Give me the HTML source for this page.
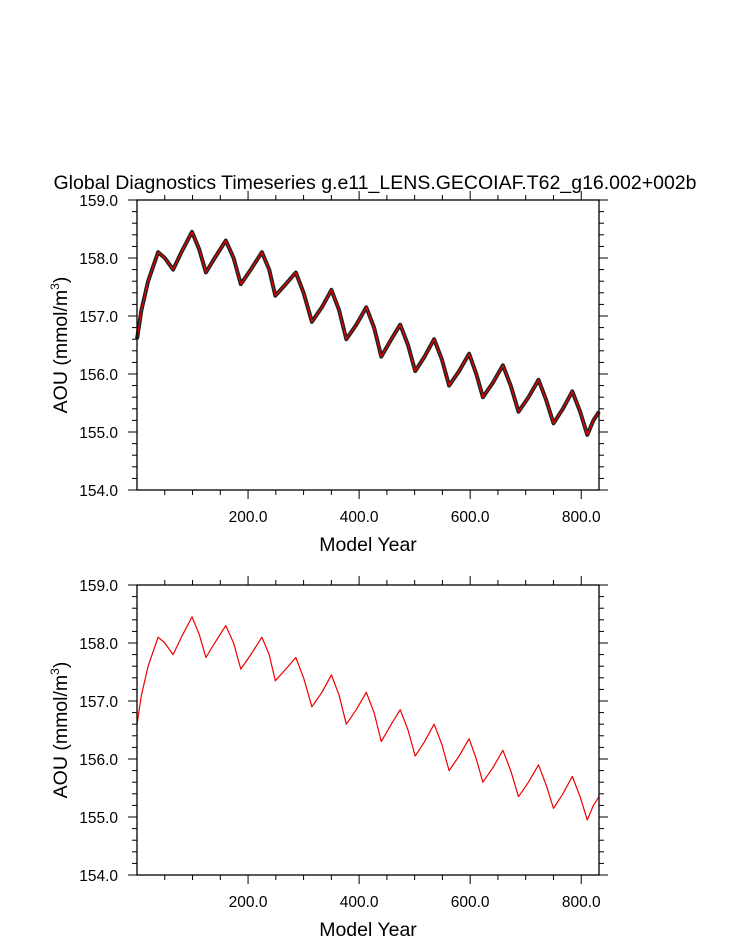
<!DOCTYPE html>
<html><head><meta charset="utf-8"><style>
body{margin:0;background:#fff}
svg{display:block;font-family:"Liberation Sans",Arial,sans-serif}
</style></head><body>
<svg id="c" width="733" height="945" viewBox="0 0 733 945"></svg>
<script>
const years=[0,8,20,38,50,65,80,99,112,124,140,160,174,187,205,225,238,249,268,286,300,315,333,350,364,377,395,413,427,440,458,474,488,501,518,535,549,562,580,598,611,623,641,659,673,687,705,723,737,750,767,784,798,811,822,832];
const aou=[156.6,157.1,157.6,158.1,158.0,157.8,158.1,158.45,158.15,157.75,158.0,158.3,158.0,157.55,157.8,158.1,157.8,157.35,157.55,157.75,157.4,156.9,157.15,157.45,157.1,156.6,156.85,157.15,156.8,156.3,156.6,156.85,156.5,156.05,156.3,156.6,156.25,155.8,156.05,156.35,156.0,155.6,155.85,156.15,155.8,155.35,155.6,155.9,155.55,155.15,155.4,155.7,155.35,154.95,155.2,155.35];
const yTicks=["154.0","155.0","156.0","157.0","158.0","159.0"];
const xTicks=["200.0","400.0","600.0","800.0"];
const NS="http://www.w3.org/2000/svg";
const svg=document.getElementById('c');
function mk(t,a,p){const e=document.createElementNS(NS,t);for(const k in a)e.setAttribute(k,a[k]);(p||svg).appendChild(e);return e;}
const X0=137,X1=599,XMAX=832;
function sx(v){return X0+(v/XMAX)*(X1-X0);}
function drawPanel(top,name,black){
  const bot=top+290;
  const g=mk('g',{});
  
  
  function sy(v){return bot-(v-154)/5*(bot-top);}
  for(let v=154;v<=159.001;v+=0.2){
    const y=sy(v);const maj=Math.abs(v-Math.round(v))<0.01;const L=maj?9:5;
    mk('line',{x1:X0-L,x2:X0,y1:y,y2:y,stroke:'#000','stroke-width':1},g);
    mk('line',{x1:X1,x2:X1+L,y1:y,y2:y,stroke:'#000','stroke-width':1},g);
  }
  for(let v=50;v<=XMAX;v+=50){
    const x=sx(v);const maj=v%200===0;const L=maj?9:5;
    mk('line',{x1:x,x2:x,y1:bot,y2:bot+L,stroke:'#000','stroke-width':1},g);
    mk('line',{x1:x,x2:x,y1:top-L,y2:top,stroke:'#000','stroke-width':1},g);
  }
  yTicks.forEach(t=>{const e=mk('text',{x:X0-19,y:sy(parseFloat(t))+6,'text-anchor':'end','font-size':15.5},g);e.textContent=t;
    });
  xTicks.forEach(t=>{const e=mk('text',{x:sx(parseFloat(t)),y:bot+32,'text-anchor':'middle','font-size':15.5},g);e.textContent=t;
    });
  const pts=years.map((y,i)=>sx(y).toFixed(1)+','+sy(aou[i]).toFixed(1)).join(' ');
  if(black){const b=mk('polyline',{points:pts,fill:'none',stroke:'#222','stroke-width':4,'stroke-linejoin':'round'},g);
    }
  const r=mk('polyline',{points:pts,fill:'none',stroke:'#e00','stroke-width':1.2,'stroke-linejoin':'round'},g);
  
  const f=mk('rect',{x:X0,y:top,width:X1-X0,height:bot-top,fill:'none',stroke:'#000','stroke-width':1.3},g);
  
  const xt=mk('text',{x:(X0+X1)/2,y:bot+61,'text-anchor':'middle','font-size':19.5},g);xt.textContent='Model Year';
  
  const yt=mk('text',{transform:`translate(67,${(top+bot)/2}) rotate(-90)`,'text-anchor':'middle','font-size':19.5},g);
  yt.innerHTML='AOU (mmol/m<tspan font-size="12" dy="-8">3</tspan><tspan dy="8">)</tspan>';
  
}
const tt=mk('text',{x:375,y:189,'text-anchor':'middle','font-size':19.5});
tt.textContent='Global Diagnostics Timeseries g.e11_LENS.GECOIAF.T62_g16.002+002b';


drawPanel(200,'top-panel',true);
drawPanel(585,'bottom-panel',false);
</script>
</body></html>
